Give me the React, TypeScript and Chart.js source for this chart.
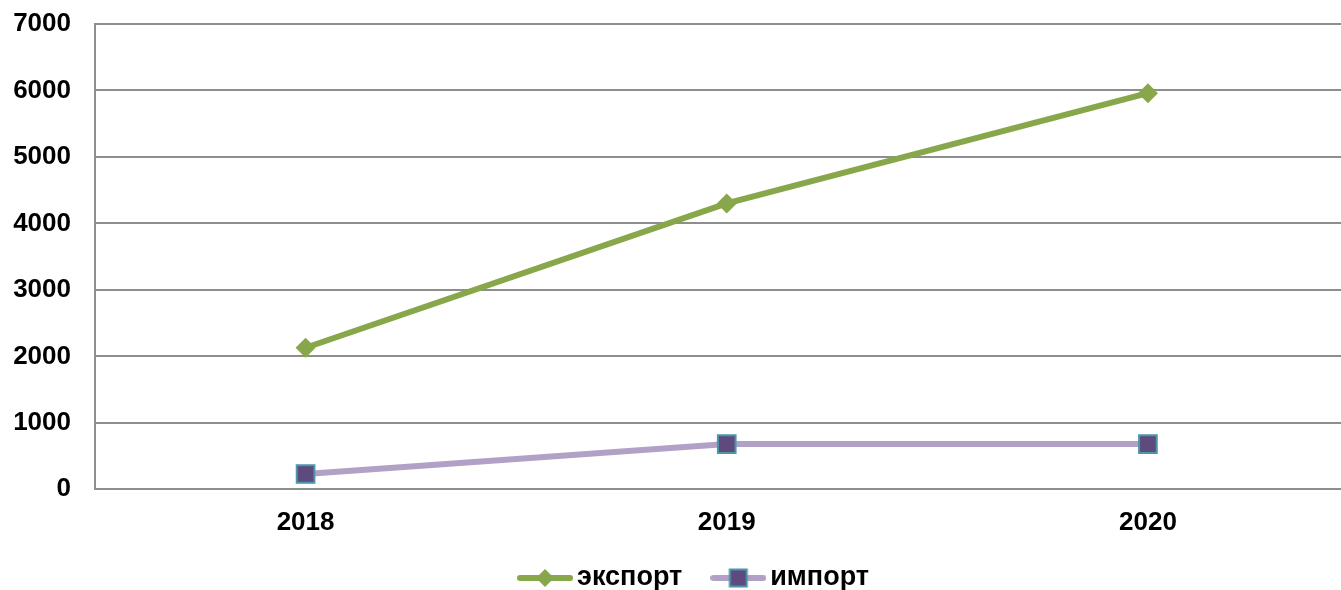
import React, { useEffect, useRef } from "react";
import { Chart, registerables } from "chart.js";

Chart.register(...registerables);

const categories = ["2018", "2019", "2020"];
const exportValues = [2130, 4300, 5960];
const importValues = [230, 680, 680];
const seriesNames = ["экспорт", "импорт"];
const yMin = 0;
const yMax = 7000;
const yStep = 1000;

const GREEN = "#88A64A";
const LAVENDER = "#B2A1C7";
const PURPLE = "#5F4A7D";
const TEAL = "#4A97AA";
const GRID = "#8E8E8E";
const FONT = "'Liberation Sans', Arial, sans-serif";

function makeIcon(lineColor: string, marker: (ctx: CanvasRenderingContext2D, x: number, y: number) => void) {
  const c = document.createElement("canvas");
  c.width = 56;
  c.height = 24;
  const ctx = c.getContext("2d")!;
  ctx.strokeStyle = lineColor;
  ctx.lineWidth = 6;
  ctx.lineCap = "round";
  ctx.beginPath();
  ctx.moveTo(3, 12);
  ctx.lineTo(53, 12);
  ctx.stroke();
  marker(ctx, 28, 12);
  return c;
}

export default function App() {
  const ref = useRef<HTMLCanvasElement>(null);
  useEffect(() => {
    if (!ref.current) return;
    const exportIcon = makeIcon(GREEN, (ctx, x, y) => {
      ctx.fillStyle = GREEN;
      ctx.beginPath();
      ctx.moveTo(x, y - 9);
      ctx.lineTo(x + 9, y);
      ctx.lineTo(x, y + 9);
      ctx.lineTo(x - 9, y);
      ctx.closePath();
      ctx.fill();
    });
    const importIcon = makeIcon(LAVENDER, (ctx, x, y) => {
      ctx.fillStyle = PURPLE;
      ctx.fillRect(x - 8.5, y - 8.5, 17, 17);
      ctx.strokeStyle = TEAL;
      ctx.lineWidth = 2;
      ctx.strokeRect(x - 8.5, y - 8.5, 17, 17);
    });
    const icons = [exportIcon, importIcon];

    const legendPlugin = {
      id: "customLegend",
      afterDraw(ch: any) {
        const ctx = ch.ctx as CanvasRenderingContext2D;
        ctx.save();
        ctx.font = `bold 27px ${FONT}`;
        ctx.textBaseline = "middle";
        ctx.fillStyle = "#000";
        const names = ch.data.datasets.map((d: any) => d.label as string);
        const widths = names.map((n: string) => ctx.measureText(n).width);
        const iconW = 56;
        const gapText = 4;
        const gapItem = 28;
        let total = 0;
        widths.forEach((w: number, i: number) => {
          total += iconW + gapText + w + (i < widths.length - 1 ? gapItem : 0);
        });
        let x = 693 - total / 2;
        const y = 578;
        names.forEach((n: string, i: number) => {
          ctx.drawImage(icons[i], x, y - 12);
          x += iconW + gapText;
          ctx.fillText(n, x, y);
          x += widths[i] + gapItem;
        });
        ctx.restore();
      },
    };

    const chart = new Chart(ref.current, {
      type: "line",
      data: {
        labels: categories,
        datasets: [
          {
            label: seriesNames[0],
            data: exportValues,
            borderColor: GREEN,
            borderWidth: 6,
            pointStyle: "rectRot",
            pointRadius: 10,
            pointBackgroundColor: GREEN,
            pointBorderColor: GREEN,
            pointBorderWidth: 0,
            tension: 0,
          },
          {
            label: seriesNames[1],
            data: importValues,
            borderColor: LAVENDER,
            borderWidth: 6,
            pointStyle: "rect",
            pointRadius: 12.5,
            pointBackgroundColor: PURPLE,
            pointBorderColor: TEAL,
            pointBorderWidth: 2,
            tension: 0,
          },
        ],
      },
      options: {
        responsive: false,
        animation: false,
        layout: { padding: { left: 12, top: 24, right: 0, bottom: 33.5 } },
        scales: {
          x: {
            offset: true,
            grid: { display: false, drawTicks: false },
            border: { display: true, color: GRID, width: 2 },
            afterFit: (s: any) => {
              s.paddingLeft = 0;
              s.paddingRight = 0;
            },
            ticks: {
              color: "#000",
              padding: 18,
              font: { family: FONT, size: 26, weight: "bold" },
            },
          },
          y: {
            min: yMin,
            max: yMax,
            grid: { color: GRID, lineWidth: 2, drawTicks: false },
            border: { display: true, color: GRID, width: 2 },
            afterFit: (s: any) => {
              s.width = 83;
              s.paddingTop = 0;
              s.paddingBottom = 0;
            },
            ticks: {
              stepSize: yStep,
              color: "#000",
              padding: 24,
              font: { family: FONT, size: 26, weight: "bold" },
              callback: (v: any) => String(v),
            },
          },
        },
        plugins: {
          tooltip: { enabled: false },
          legend: { display: false },
        },
      },
      plugins: [legendPlugin],
    });
    return () => chart.destroy();
  }, []);
  return (
    <div style={{ position: "fixed", left: 0, top: 0, width: 1341, height: 590, overflow: "hidden", background: "#fff" }}>
      <canvas ref={ref} width={1373} height={590} style={{ display: "block", width: 1373, height: 590 }} />
    </div>
  );
}
